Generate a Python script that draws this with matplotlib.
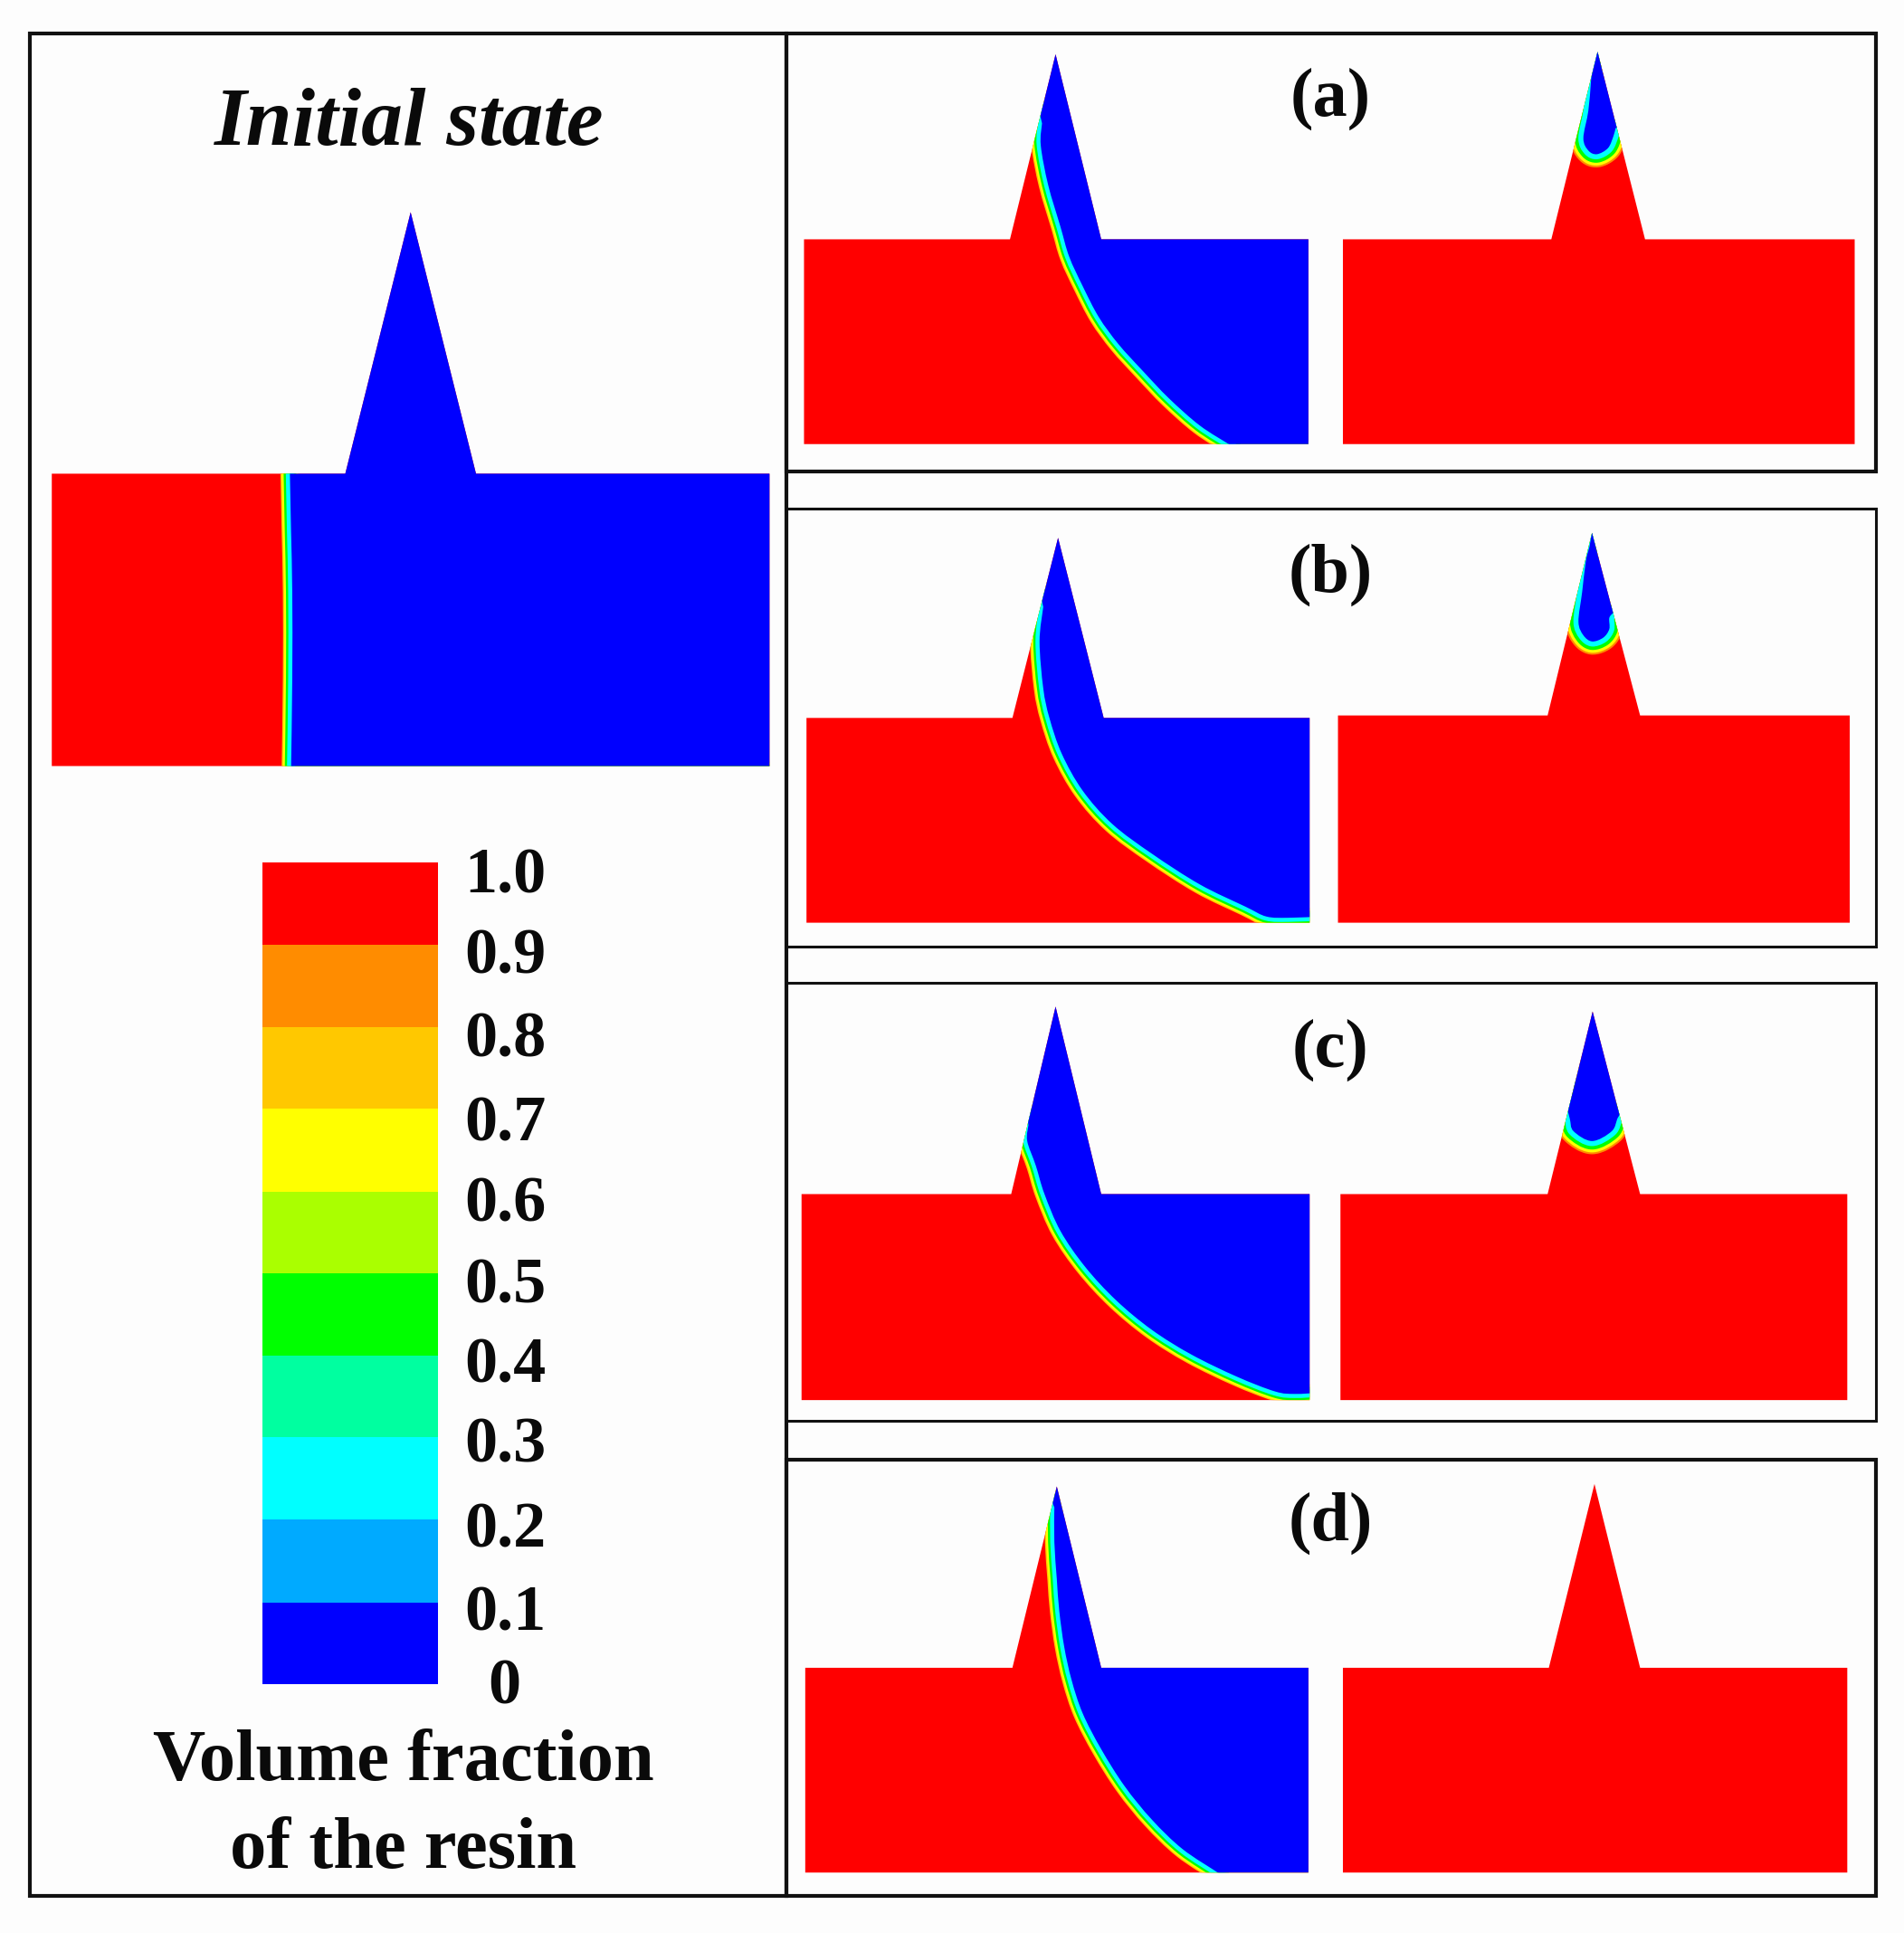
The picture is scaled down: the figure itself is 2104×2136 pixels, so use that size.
import matplotlib
matplotlib.use("Agg")
import matplotlib.pyplot as plt
from matplotlib.patches import Polygon, Rectangle, PathPatch
from matplotlib.path import Path

plt.rcParams['font.family'] = ['Liberation Serif', 'DejaVu Sans']

RED = '#FF0000'
BLUE = '#0000FF'
BAND_COLORS = ['#FF0000', '#FF8C00', '#FFC800', '#FFFF00', '#AAFF00',
               '#00FF00', '#00FFA0', '#00FFFF', '#00AAFF', '#0000FF']
TICK_LABELS = ['1.0', '0.9', '0.8', '0.7', '0.6', '0.5', '0.4', '0.3', '0.2', '0.1', '0']
TICK_Y = [711, 776, 844, 912, 977, 1043, 1108, 1172, 1241, 1309, 1368]
BAND_EDGES = [699, 766, 833, 899, 966, 1032, 1099, 1165, 1232, 1299, 1365]
PANEL_LABELS = ['(a)', '(b)', '(c)', '(d)']
PANEL_LABEL_Y = [80, 466, 851, 1235]

# domain: x0, x1, y_top, y_bottom, tri_left, tri_right, apex_x, apex_y
DOMAIN_INIT = (42, 624, 384, 621, 280, 386, 333, 172)
DOMAIN_A_L = (652, 1061, 194, 360, 819, 893, 856, 44)
DOMAIN_A_R = (1089, 1504, 194, 360, 1258, 1334, 1295.5, 42)
DOMAIN_B_L = (654, 1062, 582, 748, 821, 895, 858, 436)
DOMAIN_B_R = (1085, 1500, 580, 748, 1255, 1330, 1291, 432)
DOMAIN_C_L = (650, 1062, 968, 1135, 820, 893, 856, 816)
DOMAIN_C_R = (1087, 1498, 968, 1135, 1255, 1330, 1291.5, 820)
DOMAIN_D_L = (653, 1061, 1352, 1518, 821, 893, 857, 1205)
DOMAIN_D_R = (1089, 1498, 1352, 1518, 1256, 1330, 1293, 1203)

# resin front (top to bottom): inner edge of the blue region
FRONT_INIT = [(235, 380), (236, 430), (237, 480), (237, 550), (236, 625)]
FRONT_A_L = [(845, 100), (844, 118), (850, 150), (860, 184), (867, 208),
             (878, 232), (891, 257), (907, 279), (927, 301), (948, 323), (973, 345),
             (998, 361), (1004, 365)]
FRONT_B_L = [(846, 492), (843, 520), (846, 558), (851, 582), (861, 611),
             (878, 641), (902, 668), (934, 692), (973, 717), (1010, 735), (1027, 743),
             (1045, 744), (1070, 743)]
FRONT_C_L = [(834, 912), (833, 925), (840, 945), (847, 968), (860, 998), (880, 1027),
             (905, 1054), (934, 1078), (966, 1098), (1003, 1116), (1034, 1128),
             (1050, 1130), (1070, 1129)]
FRONT_D_L = [(855, 1222), (855, 1250), (857, 1280), (859, 1306), (863, 1335), (869, 1362),
             (878, 1389), (893, 1418), (912, 1448), (934, 1475), (959, 1499), (989, 1519),
             (995, 1524)]

# trapped air pockets in the right-hand columns: pocket edge, then the closing run outside the part
VOID_A = [(1290.5, 61), (1290, 68), (1288, 90), (1284, 112), (1288, 122), (1295, 125),
          (1304, 120), (1308.5, 110), (1310, 104)]
VOID_A_OUT = [(1325, 100), (1312, 30), (1296, 30)]
VOID_B = [(1289, 443), (1286, 455), (1283, 480), (1280, 504), (1284, 515), (1291, 520),
          (1300, 517), (1305, 510), (1305, 501), (1308, 497)]
VOID_B_OUT = [(1325, 490), (1312, 425), (1292, 425)]
VOID_C = [(1270, 895), (1273, 907), (1276, 917), (1291, 925), (1307, 917), (1312, 906), (1318, 897)]
VOID_C_OUT = [(1330, 895), (1312, 810), (1274, 810)]

FRAMES = [(24, 638, 27, 1537, 3.0), (638, 1521, 27, 382, 3.0), (638, 1521, 412, 767, 2.2),
          (638, 1521, 797, 1152, 2.2), (638, 1521, 1183, 1537, 3.0)]

FRONT_LAYERS = [('#FFC800', 15.0), ('#FFFF00', 13.0), ('#00FF00', 10.0), ('#00FFFF', 6.5)]
POCKET_LAYERS = [('#FF8C00', 21.0), ('#FFFF00', 18.0), ('#00FF00', 13.5), ('#00FFFF', 8.0)]

fig = plt.figure(figsize=(21.04, 21.36), dpi=100, facecolor='#FDFDFD')
ax = fig.add_axes([0, 0, 1, 1])
ax.set_xlim(0, 1544)
ax.set_ylim(1567, 0)
ax.axis('off')


def domain_points(d):
    x0, x1, yt, yb, tl, tr, ax_, ay = d
    return [(x0, yt), (tl, yt), (ax_, ay), (tr, yt), (x1, yt), (x1, yb), (x0, yb)]


def smooth_closed_path(pts, outside):
    """Smooth Bezier run through pts, then straight segments through outside."""
    verts = [pts[0]]
    codes = [Path.MOVETO]
    n = len(pts)
    for i in range(n - 1):
        p0 = pts[max(i - 1, 0)]
        p1 = pts[i]
        p2 = pts[i + 1]
        p3 = pts[min(i + 2, n - 1)]
        c1 = (p1[0] + (p2[0] - p0[0]) / 6, p1[1] + (p2[1] - p0[1]) / 6)
        c2 = (p2[0] - (p3[0] - p1[0]) / 6, p2[1] - (p3[1] - p1[1]) / 6)
        verts += [c1, c2, p2]
        codes += [Path.CURVE4] * 3
    for q in outside:
        verts.append(q)
        codes.append(Path.LINETO)
    verts.append(pts[0])
    codes.append(Path.CLOSEPOLY)
    return Path(verts, codes)


def draw_region(domain, path=None, layers=FRONT_LAYERS):
    clip = Polygon(domain_points(domain), closed=True, fc=RED, ec='none', zorder=2)
    ax.add_patch(clip)
    if path is None:
        return
    for col, lw in layers:
        p = PathPatch(path, fc='none', ec=col, lw=lw, zorder=3, joinstyle='round')
        ax.add_patch(p)
        p.set_clip_path(clip)
    p = PathPatch(path, fc=BLUE, ec='none', zorder=4)
    ax.add_patch(p)
    p.set_clip_path(clip)


def front_path(domain, front):
    x0, x1, yt, yb, tl, tr, ax_, ay = domain
    fx, fy = front[0]
    lx, ly = front[-1]
    return smooth_closed_path(front, [(x1 + 30, ly), (x1 + 30, ay - 30), (fx - 20, ay - 30)])


draw_region(DOMAIN_INIT, front_path(DOMAIN_INIT, FRONT_INIT))
draw_region(DOMAIN_A_L, front_path(DOMAIN_A_L, FRONT_A_L))
draw_region(DOMAIN_B_L, front_path(DOMAIN_B_L, FRONT_B_L))
draw_region(DOMAIN_C_L, front_path(DOMAIN_C_L, FRONT_C_L))
draw_region(DOMAIN_D_L, front_path(DOMAIN_D_L, FRONT_D_L))
draw_region(DOMAIN_A_R, smooth_closed_path(VOID_A, VOID_A_OUT), POCKET_LAYERS)
draw_region(DOMAIN_B_R, smooth_closed_path(VOID_B, VOID_B_OUT), POCKET_LAYERS)
draw_region(DOMAIN_C_R, smooth_closed_path(VOID_C, VOID_C_OUT), POCKET_LAYERS)
draw_region(DOMAIN_D_R)

for x0, x1, y0, y1, lw in FRAMES:
    ax.add_patch(Rectangle((x0, y0), x1 - x0, y1 - y0, fc='none', ec='#111111', lw=lw, zorder=6))

for i, col in enumerate(BAND_COLORS):
    ax.add_patch(Rectangle((213, BAND_EDGES[i]), 142, BAND_EDGES[i + 1] - BAND_EDGES[i],
                           fc=col, ec='none', zorder=2))

for lab, y in zip(TICK_LABELS, TICK_Y):
    if lab == '0':
        ax.text(409, y, lab, fontsize=52, fontweight='bold', ha='center', va='center', color='#0A0A0A')
    else:
        ax.text(377, y, lab, fontsize=52, fontweight='bold', ha='left', va='center', color='#0A0A0A')

ax.text(332, 101, 'Initial state', fontsize=66, fontweight='bold', fontstyle='italic',
        ha='center', va='center', color='#0A0A0A')
ax.text(327, 1429, 'Volume fraction', fontsize=58, fontweight='bold', ha='center', va='center', color='#0A0A0A')
ax.text(327, 1500, 'of the resin', fontsize=58, fontweight='bold', ha='center', va='center', color='#0A0A0A')

for lab, y in zip(PANEL_LABELS, PANEL_LABEL_Y):
    ax.text(1079, y, lab, fontsize=55, fontweight='bold', ha='center', va='center', color='#0A0A0A')

fig.savefig('out.png', dpi=100, facecolor=fig.get_facecolor())
